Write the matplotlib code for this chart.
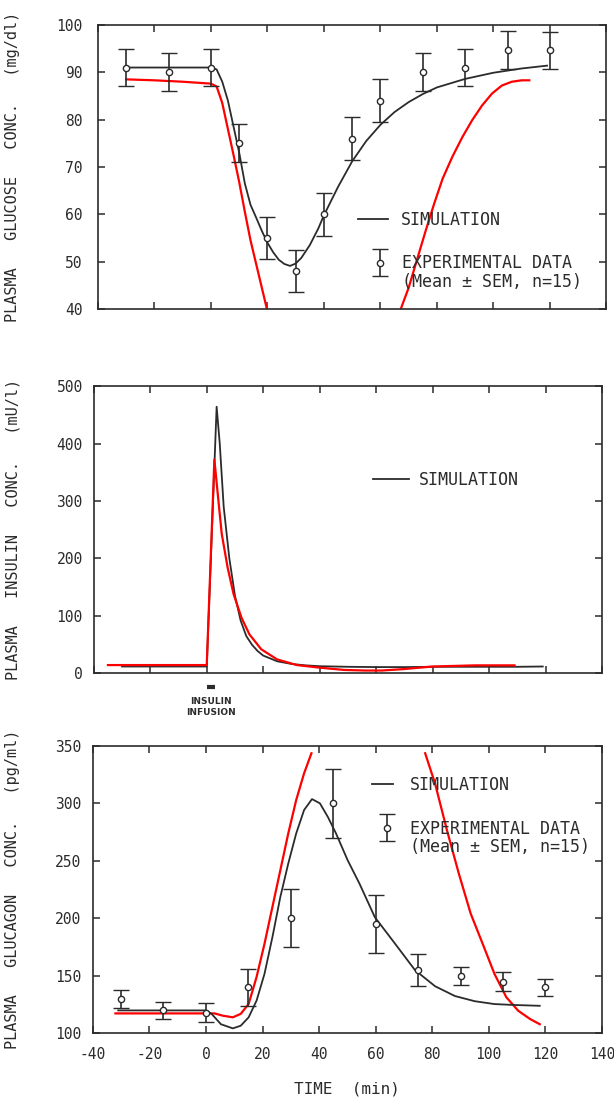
import matplotlib
matplotlib.use("Agg")
import matplotlib.pyplot as plt
from matplotlib.lines import Line2D
from matplotlib.legend_handler import HandlerErrorbar
from matplotlib.transforms import blended_transform_factory

plt.rcParams['font.family'] = ['DejaVu Sans Mono', 'DejaVu Sans']
plt.rcParams['axes.unicode_minus'] = False

# ---- glucose (mg/dl)
glu_t = [-30, -15, 0, 10, 20, 30, 40, 50, 60, 75, 90, 105, 120]
glu_mean = [91, 90, 91, 75, 55, 48, 60, 76, 84, 90, 91, 94.7, 94.6]
glu_sem = [4, 4, 4, 4, 4.5, 4.5, 4.5, 4.5, 4.5, 4, 4, 4, 4]

glu_sim_t = [-30, -20, -10, 0, 2, 4, 6, 8, 10, 12, 14, 16, 18, 20, 22, 24, 26, 28,
             30, 32, 35, 38, 40, 45, 50, 55, 60, 65, 70, 75, 80, 90, 100, 110, 119]
glu_sim = [91, 91, 91, 91, 90.6, 88.0, 84.0, 78.5, 73.0, 66.5, 62.0, 59.3, 56.5, 54.0,
           52.0, 50.4, 49.5, 49.1, 49.6, 50.8, 53.5, 57.0, 59.8, 65.8, 71.2, 75.5, 78.9,
           81.6, 83.7, 85.4, 86.8, 88.6, 89.9, 90.8, 91.4]

glu_red1_t = [-30, -20, -10, 0, 2, 4, 6, 8, 10, 12, 14, 16, 18, 19.8]
glu_red1 = [88.5, 88.3, 88.0, 87.6, 87.0, 83.5, 78.0, 72.5, 66.8, 60.5, 54.5, 49.5, 44.5, 40.0]
glu_red2_t = [67.2, 70, 73, 76, 79, 82, 85.5, 89, 92.5, 96, 99.5, 103, 106.5, 110, 112.7]
glu_red2 = [40, 44.5, 50.5, 56.5, 62.2, 67.5, 72.2, 76.3, 79.9, 83.0, 85.5, 87.2, 88.0, 88.3, 88.3]

# ---- insulin (mU/l)
ins_sim_t = [-30, -15, 0, 3.5, 4.6, 6, 8, 10, 12, 14, 16, 18, 20, 25, 30, 35, 40,
             50, 60, 70, 80, 90, 100, 110, 119]
ins_sim = [12, 12, 12, 464, 400, 290, 200, 135, 92, 65, 50, 39, 31, 21, 16.5, 14, 12.5,
           11.5, 11, 11, 11.5, 11.5, 11.5, 11.5, 12]
ins_red_t = [-35, -20, -5, 0, 2.7, 3.9, 5.3, 7.4, 9.5, 12.3, 15.1, 19.3, 24.9, 31.9, 40,
             48.7, 56, 62, 69.7, 80, 95, 109]
ins_red = [14.5, 14.5, 14.5, 14.5, 372, 312, 243, 184, 138, 97, 68, 42, 24.4, 14.5, 10,
           6, 5, 5, 7.5, 12, 14, 14]
infusion = [0, 3]

# ---- glucagon (pg/ml)
gcg_t = [-30, -15, 0, 15, 30, 45, 60, 75, 90, 105, 120]
gcg_mean = [130, 120, 118, 140, 200, 300, 195, 155, 150, 145, 140]
gcg_sem = [8, 7.5, 8, 16, 25, 30, 25, 14, 8, 8, 7.5]

gcg_sim_t = [-31, -15, 0, 2, 5.3, 9.5, 12.3, 15.1, 17.9, 20.7, 23.5, 26.3, 29.1, 31.9,
             34.7, 37.5, 40.3, 43.1, 46, 50.1, 54.3, 59.7, 66.9, 73.9, 81, 88, 95, 102, 109, 118]
gcg_sim = [120, 120, 120, 117, 108, 104.4, 106.7, 114, 128.5, 151.7, 183.6, 218.5, 247.5,
           273.6, 294, 303.5, 299.8, 288, 273.6, 250.4, 230, 201, 177.8, 155, 141, 132.5,
           128, 125.5, 124.7, 124]
gcg_red1_t = [-32, -15, 0, 3, 6, 9.5, 12.3, 15.1, 17.9, 20.7, 23.5, 26.3, 29.1, 31.9, 34.7, 37.3]
gcg_red1 = [117.4, 117.4, 117.4, 117.4, 115.4, 114, 117, 125.6, 149, 177.8, 209.8, 241.7,
            273.6, 302.6, 325.9, 343.3]
gcg_red2_t = [77.5, 81, 85.2, 89.4, 93.6, 97.8, 102, 106.2, 110.4, 114.6, 118]
gcg_red2 = [343.3, 317, 276.5, 238.8, 204, 178, 151.7, 131.4, 119.7, 112.5, 108]

xticks = list(range(-40, 141, 20))

ink = '#2b2b2b'
sim_kw = dict(color=ink, lw=1.3)
red_kw = dict(color='red', lw=1.6)
eb_kw = dict(fmt='o', ms=4.5, mfc='white', mec=ink, mew=1.0, ecolor=ink,
             elinewidth=1.2, capsize=5.5, capthick=1.2, zorder=3)
leg_kw = dict(frameon=False, fontsize=12, borderpad=0, borderaxespad=0,
              handleheight=0.7, labelcolor=ink)

fig = plt.figure(figsize=(6.14, 10.98), dpi=100)


def style(ax, ylim, yticks, pad, xlabels=False):
    ax.set_xlim(-40, 140)
    ax.set_ylim(*ylim)
    ax.set_xticks(xticks)
    ax.set_yticks(yticks)
    ax.tick_params(direction='in', top=True, right=True, length=5, width=1.1,
                   color=ink, labelsize=10.5, labelcolor=ink, pad=pad,
                   labelbottom=xlabels)
    for s in ax.spines.values():
        s.set_linewidth(1.2)
        s.set_color(ink)


def exp_legends(ax, line, eb, x1, y1, x2, y2, hl, pad1, pad2):
    leg1 = ax.legend([line], ['SIMULATION'], loc='center left',
                     bbox_to_anchor=(x1, y1), handlelength=hl, handletextpad=pad1,
                     **leg_kw)
    ax.add_artist(leg1)
    blank = Line2D([], [], linestyle='none')
    ax.legend([eb, blank], ['EXPERIMENTAL DATA', '(Mean \u00b1 SEM, n=15)'],
              loc='center left', bbox_to_anchor=(x2, y2), handlelength=hl,
              handletextpad=pad2, labelspacing=0.05,
              handler_map={type(eb): HandlerErrorbar(yerr_size=0.8)}, **leg_kw)


# top: glucose
ax1 = fig.add_axes([0.1596, 0.7186, 0.828, 0.2587])
ax1.plot(glu_red1_t, glu_red1, **red_kw)
ax1.plot(glu_red2_t, glu_red2, **red_kw)
l1, = ax1.plot(glu_sim_t, glu_sim, **sim_kw)
e1 = ax1.errorbar(glu_t, glu_mean, yerr=glu_sem, **eb_kw)
style(ax1, (40, 100), range(40, 101, 10), 11)
ax1.set_ylabel('PLASMA   GLUCOSE   CONC.   (mg/dl)', fontsize=11, color=ink)
ax1.yaxis.set_label_coords(-0.153, 0.5)
exp_legends(ax1, l1, e1, 0.511, 0.313, 0.525, 0.127, 1.8, 0.8, 0.4)

# middle: insulin
ax2 = fig.add_axes([0.1528, 0.3867, 0.8277, 0.2617])
l2, = ax2.plot(ins_sim_t, ins_sim, **sim_kw)
ax2.plot(ins_red_t, ins_red, **red_kw)
style(ax2, (0, 500), range(0, 501, 100), 8)
ax2.set_ylabel('PLASMA   INSULIN   CONC.   (mU/l)', fontsize=11, color=ink)
ax2.yaxis.set_label_coords(-0.145, 0.5)
ax2.legend([l2], ['SIMULATION'], loc='center left', bbox_to_anchor=(0.549, 0.673),
           handlelength=2.16, handletextpad=0.58, **leg_kw)
trans = blended_transform_factory(ax2.transData, ax2.transAxes)
ax2.plot(infusion, [-0.047, -0.047], color=ink, lw=3, transform=trans, clip_on=False,
         solid_capstyle='butt')
ax2.text(sum(infusion) / 2, -0.117, 'INSULIN\nINFUSION', transform=trans, ha='center',
         va='center', fontsize=6.5, fontweight='bold', family='DejaVu Sans',
         linespacing=1.15, color=ink)

# bottom: glucagon
ax3 = fig.add_axes([0.1511, 0.0588, 0.8293, 0.2622])
ax3.plot(gcg_red1_t, gcg_red1, **red_kw)
ax3.plot(gcg_red2_t, gcg_red2, **red_kw)
l3, = ax3.plot(gcg_sim_t, gcg_sim, **sim_kw)
e3 = ax3.errorbar(gcg_t, gcg_mean, yerr=gcg_sem, **eb_kw)
style(ax3, (100, 350), range(100, 351, 50), 8.5, xlabels=True)
ax3.tick_params(axis='x', pad=10)
ax3.set_ylabel('PLASMA   GLUCAGON   CONC.   (pg/ml)', fontsize=11, color=ink)
ax3.yaxis.set_label_coords(-0.143, 0.5)
ax3.set_xlabel('TIME  (min)', fontsize=11.5, color=ink, labelpad=14)
exp_legends(ax3, l3, e3, 0.548, 0.863, 0.556, 0.679, 1.3, 1.0, 0.75)

fig.savefig('out.png', dpi=100)
